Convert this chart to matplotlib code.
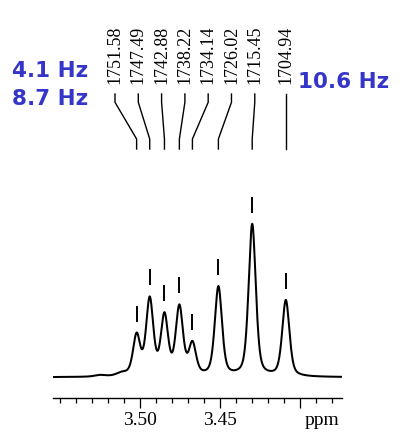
import numpy as np
import matplotlib
matplotlib.use('Agg')
import matplotlib.pyplot as plt
from matplotlib.ticker import FixedLocator, MultipleLocator

# ---------------- data ----------------
peak_hz = [1751.58, 1747.49, 1742.88, 1738.22, 1734.14, 1726.02, 1715.45, 1704.94]
peak_amp = [40, 76, 59, 68, 31, 89, 152, 76]
peak_fwhm_hz = 2.65
small_hz = [1763.0, 1756.2]
small_amp = [1.5, 3.0]
small_fwhm_hz = [4.0, 4.0]
spec_mhz = 500.15
tick_major = [3.50, 3.45, 3.40]
tick_labels = ['3.50', '3.45', '']
coupling_left = ['4.1 Hz', '8.7 Hz']
coupling_right = '10.6 Hz'

# ---------------- layout ----------------
W, H = 402, 435
fig = plt.figure(figsize=(W / 100, H / 100), dpi=100)
ax_left_px, ax_right_px, ax_bottom_px = 53, 342, 398.5
ax = fig.add_axes([ax_left_px / W, (H - ax_bottom_px) / H,
                   (ax_right_px - ax_left_px) / W, ax_bottom_px / H])
base_px = 378.3
ax.set_xlim(3.554375, 3.37375)
ax.set_ylim(-(ax_bottom_px - base_px), base_px)


def pv(hz, center, amp, fwhm, eta=0.45):
    d = (hz - center) / fwhm
    return amp * ((1 - eta) * np.exp(-4 * np.log(2) * d ** 2) + eta / (1 + 4 * d ** 2))


def spectrum(ppm):
    hz = np.asarray(ppm) * spec_mhz
    y = np.zeros_like(hz, dtype=float)
    for c, a in zip(peak_hz, peak_amp):
        y += pv(hz, c, a, peak_fwhm_hz)
    for c, a, w in zip(small_hz, small_amp, small_fwhm_hz):
        y += pv(hz, c, a, w)
    return y


x = np.linspace(3.554375, 3.37375, 3000)
ax.plot(x, spectrum(x), color='black', lw=1.45, solid_joinstyle='round')

# peak markers and labels
peak_ppm = [h / spec_mhz for h in peak_hz]
label_ppm = [3.515625 - i * 0.01456 for i in range(len(peak_hz) - 1)] + [peak_ppm[-1]]
for h, p, lp in zip(peak_hz, peak_ppm, label_ppm):
    apex = float(spectrum(np.array([p]))[0])
    ax.vlines(p, apex + 11, apex + 27, color='black', lw=1.4)
    ax.plot([lp, lp, p, p],
            [base_px - 95, base_px - 103.3, base_px - 140, base_px - 150],
            color='black', lw=1.0, clip_on=False)
    ax.text(lp, base_px - 84, f"{h:.2f}", rotation=90, ha='center', va='bottom',
            family='Liberation Serif', fontsize=13, clip_on=False)

# axes styling
for s in ['left', 'right', 'top']:
    ax.spines[s].set_visible(False)
ax.spines['bottom'].set_linewidth(1.0)
ax.set_yticks([])
ax.xaxis.set_major_locator(FixedLocator(tick_major))
ax.xaxis.set_minor_locator(MultipleLocator(0.01))
ax.set_xticklabels(tick_labels, family='Liberation Serif', fontsize=14)
ax.tick_params(axis='x', which='major', direction='out', length=7.2, width=0.9, pad=2.5)
ax.tick_params(axis='x', which='minor', direction='out', length=3.6, width=0.9)
ax.patch.set_alpha(0)

fig.text(322.5 / W, 1 - 425 / H, 'ppm', ha='center', va='baseline',
         family='Liberation Serif', fontsize=14)

blue = '#3535C9'
fig.text(12.5 / W, 1 - 76.7 / H, coupling_left[0], ha='left', va='baseline',
         family='DejaVu Sans', weight='bold', fontsize=15.5, color=blue)
fig.text(12.5 / W, 1 - 105 / H, coupling_left[1], ha='left', va='baseline',
         family='DejaVu Sans', weight='bold', fontsize=15.5, color=blue)
fig.text(298 / W, 1 - 88.3 / H, coupling_right, ha='left', va='baseline',
         family='DejaVu Sans', weight='bold', fontsize=15.5, color=blue)

fig.savefig('out.png', dpi=100)
